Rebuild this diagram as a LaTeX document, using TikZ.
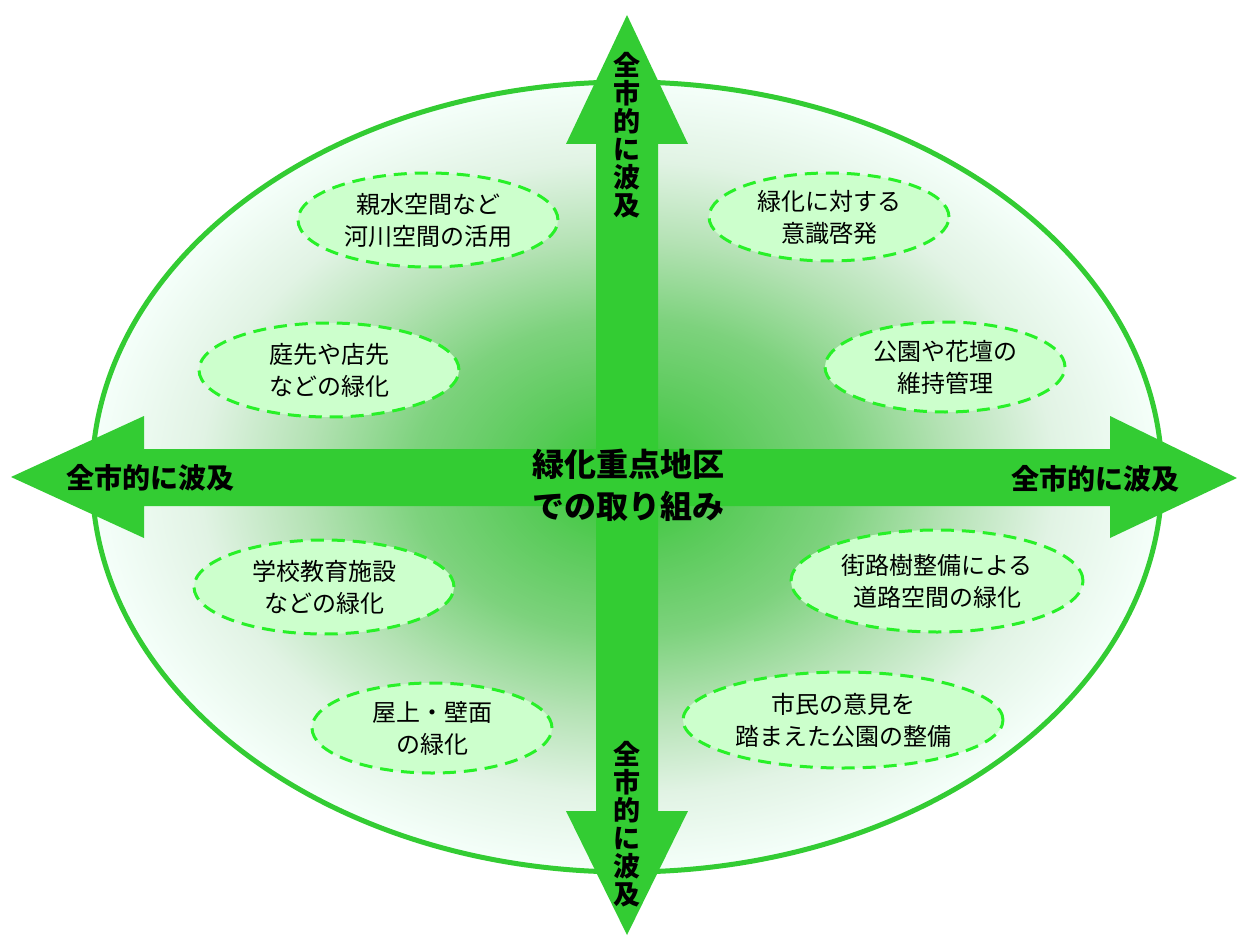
\documentclass[tikz,border=0pt]{standalone}
\usepackage{fontspec}
\setmainfont{Noto Sans CJK JP}
\usepackage{tikz}
\usetikzlibrary{shapes.geometric, positioning}
\definecolor{arrowgreen}{RGB}{51,204,51}
\definecolor{bubblefill}{RGB}{204,255,204}
\definecolor{bubbleline}{RGB}{40,240,40}
\definecolor{glowA}{RGB}{50,200,50}
\definecolor{glowB}{RGB}{90,203,90}
\definecolor{glowC}{RGB}{125,210,125}
\definecolor{glowD}{RGB}{180,226,180}
\definecolor{glowE}{RGB}{225,243,228}
\definecolor{glowF}{RGB}{245,255,250}
\pgfdeclareradialshading{greenglow}{\pgfpoint{0bp}{0bp}}{color(0bp)=(glowA); color(5bp)=(glowB); color(10bp)=(glowC); color(15bp)=(glowD); color(20bp)=(glowE); color(25bp)=(glowF); color(50bp)=(glowF)}

\begin{document}
\begin{tikzpicture}[
    x=1pt, y=-1pt,
    zone/.style={ellipse, draw=arrowgreen, line width=5pt, shading=greenglow, minimum width=1070pt, minimum height=790pt, inner sep=0pt},
    bubble/.style={ellipse, draw=bubbleline, fill=bubblefill, line width=3pt, dash pattern=on 13pt off 8pt, inner sep=0pt, align=center, font=\fontsize{24}{32}\selectfont},
    spread/.style={align=center, font=\fontsize{28}{34}\selectfont\bfseries},
    spreadv/.style={align=center, font=\fontsize{27}{28}\selectfont\bfseries},
    core/.style={align=center, font=\fontsize{32}{42}\selectfont\bfseries}
]
\fill[white] (0,0) rectangle (1237,936);
\useasboundingbox (0,0) rectangle (1237,936);

% Green zone
\node[zone] (zone) at (627,477) {};

% Measures (left)
\node[bubble, minimum width=260pt, minimum height=94pt] (shinsui) at (428,220) {親水空間など\\河川空間の活用};
\node[bubble, minimum width=260pt, minimum height=94pt] (niwasaki) at (329,370) {庭先や店先\\などの緑化};
\node[bubble, minimum width=260pt, minimum height=94pt] (gakko) at (324,587) {学校教育施設\\などの緑化};
\node[bubble, minimum width=240pt, minimum height=90pt] (okujo) at (432,728) {屋上・壁面\\の緑化};

% Measures (right)
\node[bubble, minimum width=240pt, minimum height=88pt] (ishiki) at (829,217) {緑化に対する\\意識啓発};
\node[bubble, minimum width=240pt, minimum height=90pt] (iji) at (945,367) {公園や花壇の\\維持管理};
\node[bubble, minimum width=292pt, minimum height=102pt] (gairoju) at (937,581) {街路樹整備による\\道路空間の緑化};
\node[bubble, minimum width=320pt, minimum height=96pt] (shimin) at (843,720) {市民の意見を\\踏まえた公園の整備};

% Cross of arrows
\fill[arrowgreen] (627,15) -- (688,144) -- (658,144) -- (658,811) -- (688,811) -- (627,935)
    -- (566,811) -- (596,811) -- (596,144) -- (566,144) -- cycle;
\fill[arrowgreen] (11,477) -- (144,416) -- (144,449) -- (1110,449) -- (1110,416) -- (1237,478)
    -- (1110,538) -- (1110,506) -- (144,506) -- (144,538) -- cycle;

% Labels
\node[spreadv] (labelN) at (627,135) {全\\市\\的\\に\\波\\及};
\node[spreadv] (labelS) at (627,824) {全\\市\\的\\に\\波\\及};
\node[spread] (labelW) at (150,478) {全市的に波及};
\node[spread] (labelE) at (1095,479) {全市的に波及};
\node[core] (focus) at (628,485) {緑化重点地区\\での取り組み};

\end{tikzpicture}
\end{document}
